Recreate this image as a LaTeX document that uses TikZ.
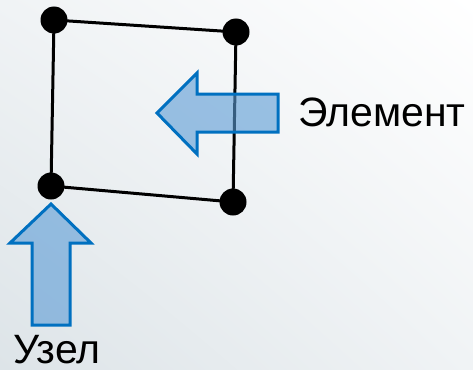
\documentclass[tikz,border=0pt]{standalone}
\usepackage{fontspec}
\setmainfont{Liberation Sans}
\usetikzlibrary{shadings}
\definecolor{bgdark}{RGB}{221,228,232}
\definecolor{bgmid}{RGB}{240,243,245}
\definecolor{arrowfill}{RGB}{91,155,213}
\definecolor{arrowline}{RGB}{0,112,192}
\begin{document}
\begin{tikzpicture}[x=1pt,y=-1pt,
  dot/.style={circle,fill=black,inner sep=0pt,minimum size=27pt},
  edge/.style={line width=3pt,black},
  blockarrow/.style={fill=arrowfill,fill opacity=0.6,draw=arrowline,line width=3pt,line join=miter},
  label/.style={anchor=base west,inner sep=0pt,font=\fontsize{41}{41}\selectfont}]
\shade[lower left=bgdark,upper right=white,upper left=bgmid,lower right=bgmid] (0,0) rectangle (473,369);
\useasboundingbox (0,0) rectangle (473,369);
\coordinate (tl) at (54,20);
\coordinate (tr) at (236,32);
\coordinate (br) at (233,202);
\coordinate (bl) at (51,186);
\draw[edge] (tl) -- (tr) -- (br) -- (bl) -- cycle;
\node[dot] (ntl) at (tl) {};
\node[dot] (ntr) at (tr) {};
\node[dot] (nbr) at (br) {};
\node[dot] (nbl) at (bl) {};
\draw[blockarrow] (157,113) -- (197,73) -- (197,94) -- (278,94) -- (278,132) -- (197,132) -- (197,154) -- cycle;
\draw[blockarrow] (51,204) -- (91,243) -- (70,243) -- (70,325) -- (32,325) -- (32,243) -- (10,243) -- cycle;
\node[label] (elem) at (298,126) {Элемент};
\node[label] (uzel) at (13,363) {Узел};
\end{tikzpicture}
\end{document}
